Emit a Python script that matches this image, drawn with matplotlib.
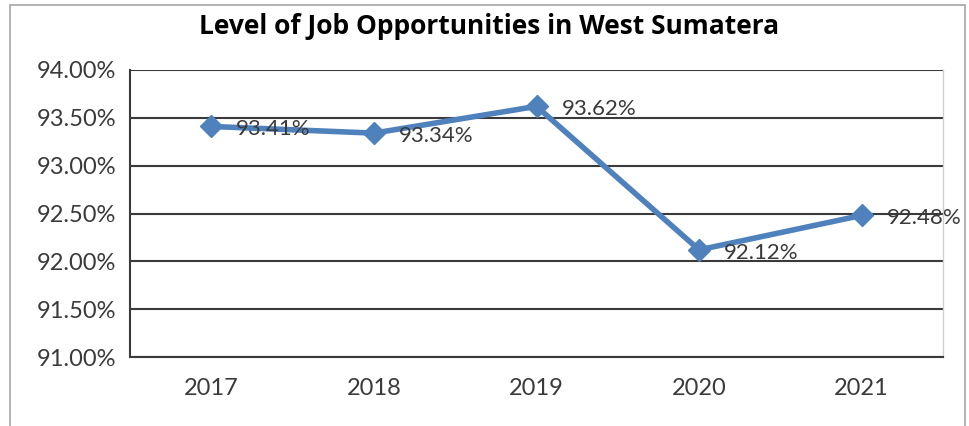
import matplotlib.pyplot as plt
from matplotlib.patches import Rectangle

years = ["2017", "2018", "2019", "2020", "2021"]
values = [93.41, 93.34, 93.62, 92.12, 92.48]
yticks = [91.0, 91.5, 92.0, 92.5, 93.0, 93.5, 94.0]

plt.rcParams['font.family'] = ['Lato', 'DejaVu Sans']

fig = plt.figure(figsize=(9.7, 4.26), dpi=100)
W, H = 970, 426
ax = fig.add_axes([130 / W, 1 - 357 / H, (943 - 130) / W, (357 - 70) / H])

# outer chart frame
fig.patches.append(Rectangle((10 / W, -0.05), (965 - 10) / W, 1 - 5 / H + 0.05,
                             transform=fig.transFigure, fill=False,
                             edgecolor="#a6a6a6", linewidth=1.2))

x = range(len(years))
ax.plot(x, values, color="#4f81bd", linewidth=4, marker="D", markersize=11,
        zorder=3)
for i, v in enumerate(values):
    ax.annotate(f"{v:.2f}%", (i, v), xytext=(18, -2), textcoords="offset points",
                ha="left", va="center", fontsize=16, color="#3a3a3a", zorder=4)

ax.set_xlim(-0.5, 4.5)
ax.set_ylim(91, 94)
ax.set_yticks(yticks)
ax.set_yticklabels([f"{t:.2f}%" for t in yticks])
ax.set_xticks(list(x))
ax.set_xticklabels(years)
ax.tick_params(axis="both", length=0, labelsize=17, colors="#3a3a3a")
ax.tick_params(axis="y", pad=10)
ax.tick_params(axis="x", pad=15)

ax.grid(axis="y", color="#3a3a3a", linewidth=1.5)
ax.set_axisbelow(True)
ax.spines["top"].set_visible(False)
ax.spines["right"].set_color("#d0d0d0")
ax.spines["right"].set_linewidth(1)
ax.spines["left"].set_color("#3a3a3a")
ax.spines["left"].set_linewidth(1.5)
ax.spines["bottom"].set_color("#3a3a3a")
ax.spines["bottom"].set_linewidth(1.5)

fig.text(489 / W, 1 - 27 / H, "Level of Job Opportunities in West Sumatera",
         ha="center", va="center", fontsize=19, fontweight="bold", color="black",
         family=["Open Sans", "DejaVu Sans"])

fig.savefig("out.png", dpi=100)
